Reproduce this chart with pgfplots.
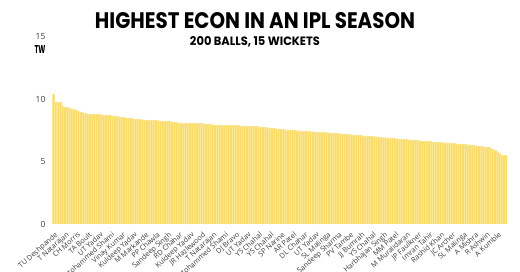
\documentclass[border=0pt]{standalone}
\usepackage{fontspec}
\setmainfont{Open Sans}
\newfontfamily\titlefont{Poppins}
\usepackage{graphicx}
\usepackage{pgfplots}
\usepackage{pgfplotstable}
\pgfplotsset{compat=1.18}
\definecolor{barc}{RGB}{249,220,105}
\definecolor{lab}{RGB}{60,60,60}
\pgfplotstableread[row sep=\\]{
y\\
10.40\\9.78\\9.75\\9.75\\9.50\\9.40\\9.36\\9.30\\9.25\\9.20\\
9.12\\9.06\\9.00\\8.93\\8.88\\
8.83\\8.82\\8.81\\8.80\\8.79\\8.78\\8.77\\
8.76\\8.74\\8.72\\8.70\\8.68\\8.66\\
8.63\\8.60\\8.57\\8.54\\8.51\\8.48\\
8.46\\8.44\\8.42\\8.40\\8.38\\8.37\\
8.36\\8.35\\8.34\\8.33\\8.31\\8.30\\8.29\\8.28\\8.27\\8.25\\8.24\\
8.22\\8.20\\8.17\\8.15\\8.12\\
8.12\\8.11\\8.11\\8.10\\8.10\\8.09\\8.09\\8.08\\8.08\\8.07\\
8.05\\8.03\\8.01\\7.99\\7.97\\7.96\\
7.95\\7.95\\7.94\\7.94\\7.93\\7.93\\7.92\\7.92\\7.91\\
7.90\\7.89\\7.88\\7.87\\7.86\\7.85\\7.84\\7.83\\7.82\\7.81\\7.80\\
7.78\\7.76\\7.73\\7.71\\7.69\\7.67\\7.65\\7.63\\7.61\\7.59\\7.56\\7.54\\
7.53\\7.52\\7.50\\7.49\\7.48\\7.46\\7.45\\7.44\\7.42\\7.41\\7.40\\7.38\\7.37\\7.36\\7.35\\7.34\\7.33\\7.32\\
7.30\\7.29\\7.27\\7.26\\7.24\\7.23\\7.21\\7.19\\7.18\\7.16\\7.15\\7.13\\7.12\\7.10\\7.09\\7.07\\7.06\\
7.04\\7.03\\7.01\\7.00\\6.98\\6.96\\6.95\\6.93\\6.91\\6.90\\6.88\\6.86\\6.85\\6.83\\6.81\\6.80\\6.78\\6.76\\6.74\\
6.73\\6.71\\6.70\\6.68\\6.67\\6.65\\6.64\\6.62\\6.61\\6.59\\6.58\\6.56\\6.55\\6.53\\6.52\\
6.51\\6.49\\6.48\\6.46\\6.44\\6.43\\6.41\\6.40\\6.38\\6.37\\6.35\\6.34\\
6.31\\6.29\\6.26\\6.23\\6.20\\6.17\\6.15\\
6.10\\6.00\\5.93\\5.80\\5.70\\
5.53\\5.52\\5.51\\
}\econ

\begin{document}
\begin{tikzpicture}
\useasboundingbox (0,0) rectangle (520pt,272pt);
\fill[white] (0,0) rectangle (520pt,272pt);
\begin{axis}[
  at={(52pt,48pt)}, anchor=south west,
  scale only axis, width=455pt, height=187pt,
  xmin=-0.5, xmax=199.5, ymin=0, ymax=15,
  axis line style={draw=none}, tick style={draw=none},
  ytick={0,5,10,15},
  xtick={0,5,...,195},
  xticklabels={TU Deshpande, T Natarajan, CH Morris, TA Boult, UT Yadav, Mohammed Shami, Vinay Kumar, Kuldeep Yadav, M Markande, PP Chawla, Sandeep Singh, RD Chahar, Kuldeep Yadav, JR Hazlewood, T Natarajan, Mohammed Shami, DJ Bravo, UT Yadav, YS Chahal, YS Chahal, SP Narine, AR Patel, DL Chahar, UT Yadav, SL Malinga, Sandeep Sharma, PV Tambe, JJ Bumrah, YS Chahal, Harbhajan Singh, MM Patel, M Muralidaran, JP Faulkner, Imran Tahir, Rashid Khan, JC Archer, SL Malinga, A Mishra, R Ashwin, A Kumble},
  xticklabel style={rotate=42, anchor=north east, font=\fontsize{7.2}{8}\selectfont, text=lab, inner sep=1pt, yshift=-2pt},
  yticklabel style={font=\fontsize{8.5}{9}\selectfont, text=lab, xshift=-3pt},
  /pgf/number format/assume math mode=true,
  ybar, bar width=1,
]
\addplot[fill=barc, draw=barc!75!white, line width=0.1pt] table[x expr=\coordindex, y=y]{\econ};
\end{axis}
\node at (255pt,251pt) {\resizebox{320pt}{16pt}{\titlefont\bfseries HIGHEST ECON IN AN IPL SEASON}};
\node at (255pt,230.5pt) {\resizebox{130pt}{9pt}{\titlefont\bfseries 200 BALLS, 15 WICKETS}};
\node at (40pt,222.5pt) {\resizebox{11pt}{8pt}{\titlefont\bfseries TW}};
\end{tikzpicture}
\end{document}
